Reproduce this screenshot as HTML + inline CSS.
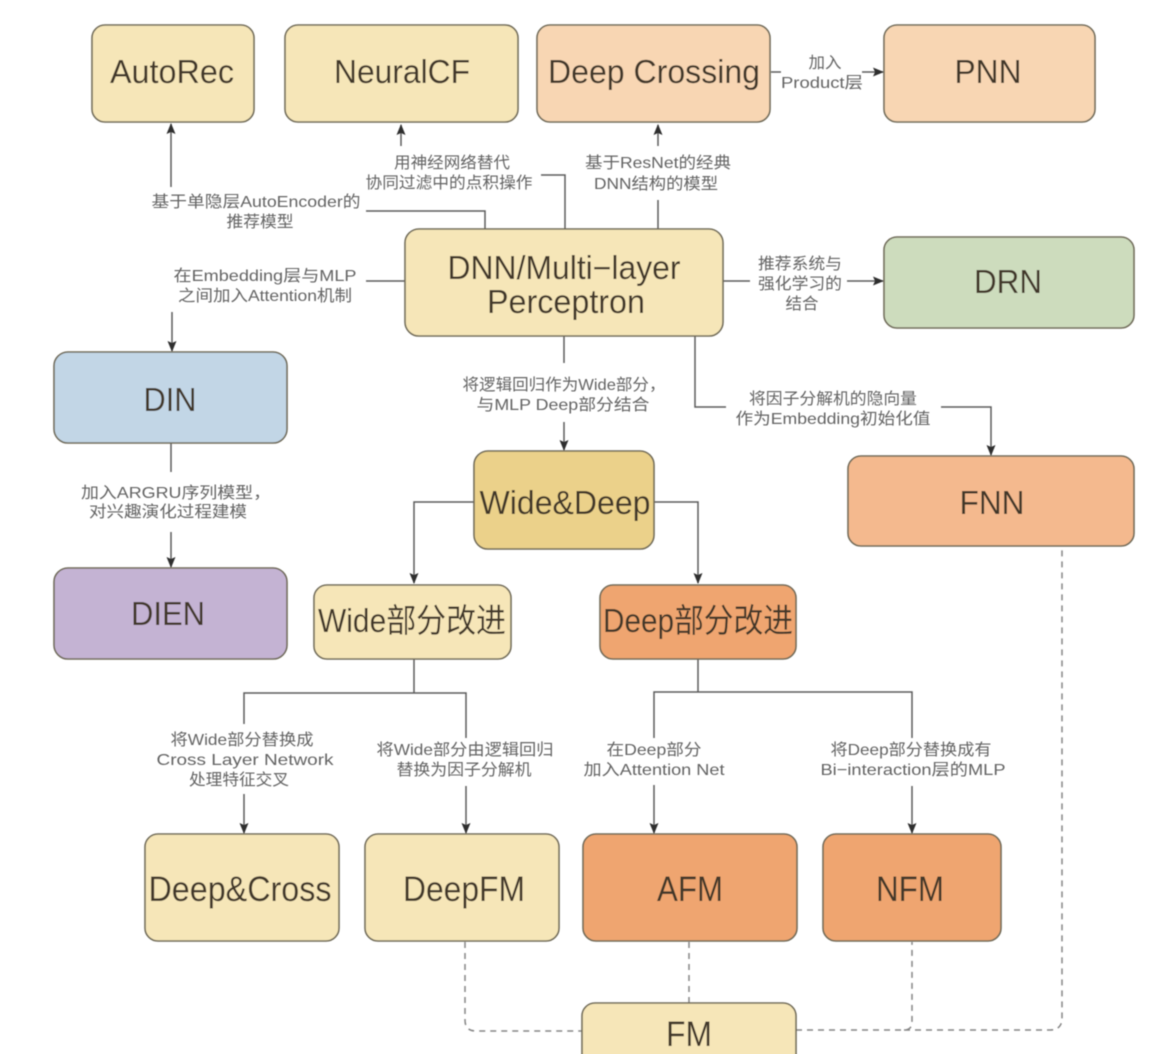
<!DOCTYPE html>
<html><head><meta charset="utf-8">
<style>
html,body{margin:0;padding:0;background:#fff;width:1170px;height:1054px;overflow:hidden}
svg{display:block}
.n{font-family:"Liberation Sans","Noto Sans CJK SC",sans-serif;font-size:33px;fill:#42382a;text-anchor:middle}
.t{font-size:35px}
.l{font-family:"Liberation Sans","Noto Sans CJK SC",sans-serif;font-size:16px;fill:#636363;text-anchor:middle}
.b{stroke:#6f6a58;stroke-width:1.6}
.c{fill:none;stroke:#5c5c5c;stroke-width:1.5}
.d{fill:none;stroke:#858585;stroke-width:1.5;stroke-dasharray:6 5}
</style></head><body>
<svg width="1170" height="1054" viewBox="0 0 1170 1054" xmlns="http://www.w3.org/2000/svg">
<defs>
<marker id="a" markerWidth="12" markerHeight="12" refX="10" refY="5" orient="auto" markerUnits="userSpaceOnUse"><path d="M0 0.5L11 5L0 9.5L2 5Z" fill="#2e2e2e"/></marker>
<filter id="s" x="-5%" y="-5%" width="110%" height="110%"><feGaussianBlur stdDeviation="0.5"/></filter>
</defs>
<g filter="url(#s)">
<!-- connectors -->
<path class="c" marker-end="url(#a)" d="M171 187V124"/>
<path class="c" d="M366 211H485V229"/>
<path class="c" marker-end="url(#a)" d="M401 146V125"/>
<path class="c" d="M541 175H565V229"/>
<path class="c" marker-end="url(#a)" d="M658 146V125"/>
<path class="c" d="M658 200V229"/>
<path class="c" d="M771 72H781"/>
<path class="c" marker-end="url(#a)" d="M862 72H883"/>
<path class="c" d="M366 281H405"/>
<path class="c" marker-end="url(#a)" d="M172 312V351"/>
<path class="c" d="M723 281H750"/>
<path class="c" marker-end="url(#a)" d="M847 281H883"/>
<path class="c" d="M171 443V472"/>
<path class="c" marker-end="url(#a)" d="M171 532V567"/>
<path class="c" d="M564 336V363"/>
<path class="c" marker-end="url(#a)" d="M564 422V450"/>
<path class="c" d="M695 336V407H726"/>
<path class="c" marker-end="url(#a)" d="M941 407H991V455"/>
<path class="c" marker-end="url(#a)" d="M474 502H414V583"/>
<path class="c" marker-end="url(#a)" d="M654 502H698V583"/>
<path class="c" d="M414 659V693"/>
<path class="c" d="M244 724V693H466V738"/>
<path class="c" marker-end="url(#a)" d="M244 794V833"/>
<path class="c" marker-end="url(#a)" d="M466 786V833"/>
<path class="c" d="M698 659V692"/>
<path class="c" d="M654 738V692H912V738"/>
<path class="c" marker-end="url(#a)" d="M654 785V833"/>
<path class="c" marker-end="url(#a)" d="M912 786V833"/>
<!-- dashed -->
<path class="d" d="M465 942V1020Q465 1031 476 1031H582"/>
<path class="d" d="M689 942V1003"/>
<path class="d" d="M796 1030H904Q912 1030 912 1022V942"/>
<path class="d" d="M904 1030H1050Q1062 1030 1062 1018V547"/>
<!-- nodes -->
<rect class="b" x="92" y="25" width="162" height="97" rx="13" fill="#f6e6b8"/>
<rect class="b" x="285" y="25" width="233" height="97" rx="13" fill="#f6e6b8"/>
<rect class="b" x="537" y="25" width="233" height="97" rx="13" fill="#f8d6b3"/>
<rect class="b" x="884" y="25" width="211" height="97" rx="13" fill="#f8d6b3"/>
<rect class="b" x="405" y="229" width="318" height="107" rx="14" fill="#f6e6b8"/>
<rect class="b" x="884" y="237" width="250" height="91" rx="13" fill="#cddcbd"/>
<rect class="b" x="54" y="352" width="233" height="91" rx="14" fill="#c2d6e6"/>
<rect class="b" x="54" y="568" width="233" height="91" rx="14" fill="#c4b3d3"/>
<rect class="b" x="474" y="451" width="180" height="98" rx="14" fill="#ebd18a"/>
<rect class="b" x="314" y="585" width="197" height="74" rx="13" fill="#f6e6b8"/>
<rect class="b" x="600" y="585" width="196" height="74" rx="13" fill="#efa56f"/>
<rect class="b" x="848" y="456" width="286" height="90" rx="13" fill="#f4b98e"/>
<rect class="b" x="145" y="834" width="194" height="107" rx="13" fill="#f6e6b8"/>
<rect class="b" x="365" y="834" width="194" height="107" rx="13" fill="#f6e6b8"/>
<rect class="b" x="583" y="834" width="214" height="107" rx="13" fill="#efa56f"/>
<rect class="b" x="823" y="834" width="178" height="107" rx="13" fill="#efa56f"/>
<rect class="b" x="582" y="1003" width="214" height="70" rx="13" fill="#f6e6b8"/>
<!-- node text -->
<text class="n" x="172" y="83" textLength="124" lengthAdjust="spacingAndGlyphs">AutoRec</text>
<text class="n" x="402" y="83" textLength="136" lengthAdjust="spacingAndGlyphs">NeuralCF</text>
<text class="n" x="654" y="83" textLength="212" lengthAdjust="spacingAndGlyphs">Deep Crossing</text>
<text class="n" x="988" y="83" textLength="67" lengthAdjust="spacingAndGlyphs">PNN</text>
<text class="n" x="564" y="279" textLength="233" lengthAdjust="spacingAndGlyphs">DNN/Multi−layer</text>
<text class="n" x="566" y="313" textLength="158" lengthAdjust="spacingAndGlyphs">Perceptron</text>
<text class="n" x="1008" y="293" textLength="68" lengthAdjust="spacingAndGlyphs">DRN</text>
<text class="n" x="170" y="411" textLength="53" lengthAdjust="spacingAndGlyphs">DIN</text>
<text class="n" x="168" y="625" textLength="74" lengthAdjust="spacingAndGlyphs">DIEN</text>
<text class="n" x="565" y="514" textLength="171" lengthAdjust="spacingAndGlyphs">Wide&amp;Deep</text>
<text class="n" x="412" y="632" textLength="188" lengthAdjust="spacingAndGlyphs">Wide部分改进</text>
<text class="n" x="698" y="632" textLength="190" lengthAdjust="spacingAndGlyphs">Deep部分改进</text>
<text class="n" x="992" y="514" textLength="65" lengthAdjust="spacingAndGlyphs">FNN</text>
<text class="n t" x="240" y="901" textLength="183" lengthAdjust="spacingAndGlyphs">Deep&amp;Cross</text>
<text class="n t" x="464" y="901" textLength="122" lengthAdjust="spacingAndGlyphs">DeepFM</text>
<text class="n t" x="690" y="901" textLength="66" lengthAdjust="spacingAndGlyphs">AFM</text>
<text class="n t" x="910" y="901" textLength="68" lengthAdjust="spacingAndGlyphs">NFM</text>
<text class="n t" x="689" y="1046" textLength="46" lengthAdjust="spacingAndGlyphs">FM</text>
<!-- labels -->
<text class="l" x="256" y="207" textLength="209" lengthAdjust="spacingAndGlyphs">基于单隐层AutoEncoder的</text>
<text class="l" x="260" y="227" textLength="67" lengthAdjust="spacingAndGlyphs">推荐模型</text>
<text class="l" x="452" y="168" textLength="116" lengthAdjust="spacingAndGlyphs">用神经网络替代</text>
<text class="l" x="449" y="188" textLength="167" lengthAdjust="spacingAndGlyphs">协同过滤中的点积操作</text>
<text class="l" x="658" y="168" textLength="146" lengthAdjust="spacingAndGlyphs">基于ResNet的经典</text>
<text class="l" x="656" y="189" textLength="124" lengthAdjust="spacingAndGlyphs">DNN结构的模型</text>
<text class="l" x="825" y="68" textLength="33" lengthAdjust="spacingAndGlyphs">加入</text>
<text class="l" x="822" y="88" textLength="82" lengthAdjust="spacingAndGlyphs">Product层</text>
<text class="l" x="265" y="281" textLength="183" lengthAdjust="spacingAndGlyphs">在Embedding层与MLP</text>
<text class="l" x="265" y="301" textLength="174" lengthAdjust="spacingAndGlyphs">之间加入Attention机制</text>
<text class="l" x="800" y="269" textLength="84" lengthAdjust="spacingAndGlyphs">推荐系统与</text>
<text class="l" x="800" y="289" textLength="84" lengthAdjust="spacingAndGlyphs">强化学习的</text>
<text class="l" x="802" y="309" textLength="33" lengthAdjust="spacingAndGlyphs">结合</text>
<text class="l" x="564" y="390" textLength="203" lengthAdjust="spacingAndGlyphs">将逻辑回归作为Wide部分，</text>
<text class="l" x="563" y="410" textLength="173" lengthAdjust="spacingAndGlyphs">与MLP Deep部分结合</text>
<text class="l" x="833" y="404" textLength="168" lengthAdjust="spacingAndGlyphs">将因子分解机的隐向量</text>
<text class="l" x="833" y="424" textLength="195" lengthAdjust="spacingAndGlyphs">作为Embedding初始化值</text>
<text class="l" x="176" y="498" textLength="190" lengthAdjust="spacingAndGlyphs">加入ARGRU序列模型，</text>
<text class="l" x="168" y="517" textLength="158" lengthAdjust="spacingAndGlyphs">对兴趣演化过程建模</text>
<text class="l" x="242" y="745" textLength="143" lengthAdjust="spacingAndGlyphs">将Wide部分替换成</text>
<text class="l" x="245" y="765" textLength="177" lengthAdjust="spacingAndGlyphs">Cross Layer Network</text>
<text class="l" x="239" y="785" textLength="100" lengthAdjust="spacingAndGlyphs">处理特征交叉</text>
<text class="l" x="465" y="755" textLength="177" lengthAdjust="spacingAndGlyphs">将Wide部分由逻辑回归</text>
<text class="l" x="464" y="775" textLength="135" lengthAdjust="spacingAndGlyphs">替换为因子分解机</text>
<text class="l" x="654" y="755" textLength="95" lengthAdjust="spacingAndGlyphs">在Deep部分</text>
<text class="l" x="654" y="775" textLength="141" lengthAdjust="spacingAndGlyphs">加入Attention Net</text>
<text class="l" x="911" y="755" textLength="161" lengthAdjust="spacingAndGlyphs">将Deep部分替换成有</text>
<text class="l" x="913" y="775" textLength="185" lengthAdjust="spacingAndGlyphs">Bi−interaction层的MLP</text>
</g>
</svg>
</body></html>
